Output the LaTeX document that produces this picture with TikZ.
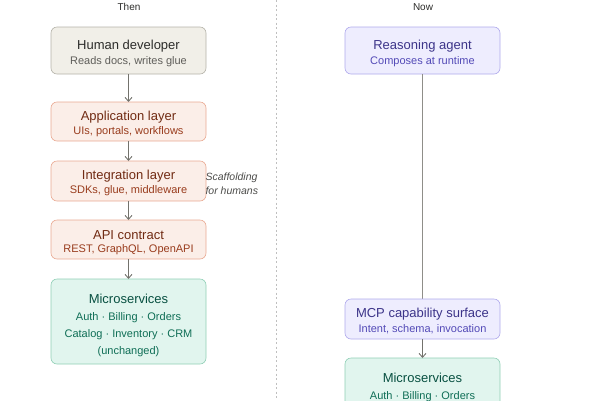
\documentclass[tikz,border=0pt]{standalone}
\usepackage{fontspec}
\setmainfont{Liberation Sans}
\usetikzlibrary{arrows.meta}
\definecolor{grayF}{HTML}{F1EFE8}\definecolor{grayD}{HTML}{B4B2A9}
\definecolor{grayT}{HTML}{2C2C2A}\definecolor{grayS}{HTML}{5F5E5A}
\definecolor{salF}{HTML}{FBEEE8}\definecolor{salD}{HTML}{E9A992}
\definecolor{salT}{HTML}{712B13}\definecolor{salS}{HTML}{993C1D}
\definecolor{grnF}{HTML}{E1F5EE}\definecolor{grnD}{HTML}{8FCFB5}
\definecolor{grnT}{HTML}{085041}\definecolor{grnS}{HTML}{0F6E56}
\definecolor{purF}{HTML}{EEEDFE}\definecolor{purD}{HTML}{AFA9EC}
\definecolor{purT}{HTML}{3C3489}\definecolor{purS}{HTML}{534AB7}
\definecolor{arr}{HTML}{73726C}
\tikzset{
  x=1pt,y=-1pt,
  box/.style={rounded corners=6pt,line width=0.6pt},
  ttl/.style={font=\fontsize{13}{15}\selectfont,anchor=center},
  sub/.style={font=\fontsize{11}{13}\selectfont,anchor=center},
  lbl/.style={font=\fontsize{10}{12}\selectfont,text=grayT},
  conn/.style={draw=arr,line width=0.9pt,-{Straight Barb[length=4pt,width=7pt]}},
}
\begin{document}
\begin{tikzpicture}
\useasboundingbox (0,0) rectangle (600,400);
\begin{scope}
\clip (0,0) rectangle (600,400);
\draw[draw=gray!50,line width=0.9pt,dash pattern=on 2pt off 2.5pt] (276,0) -- (276,400);
\node[lbl] (then) at (129,7) {Then};
\node[lbl] (now) at (423,7) {Now};
% left column
\draw[box,fill=grayF,draw=grayD] (51,27) rectangle (206,74);
\node[ttl,text=grayT] (hd) at (128.5,46) {Human developer};
\node[sub,text=grayS] (hds) at (128.5,62) {Reads docs, writes glue};
\coordinate (hdB) at (128.5,74);
\draw[box,fill=salF,draw=salD] (51,102) rectangle (206,141);
\node[ttl,text=salT] (al) at (128.5,117) {Application layer};
\node[sub,text=salS] (als) at (128.5,132) {UIs, portals, workflows};
\coordinate (alT) at (128.5,102);\coordinate (alB) at (128.5,141);
\draw[box,fill=salF,draw=salD] (51,161) rectangle (206,201);
\node[ttl,text=salT] (il) at (128.5,176) {Integration layer};
\node[sub,text=salS] (ils) at (128.5,191) {SDKs, glue, middleware};
\coordinate (ilT) at (128.5,161);\coordinate (ilB) at (128.5,201);
\draw[box,fill=salF,draw=salD] (51,220) rectangle (206,259);
\node[ttl,text=salT] (api) at (128.5,235) {API contract};
\node[sub,text=salS] (apis) at (128.5,250) {REST, GraphQL, OpenAPI};
\coordinate (apiT) at (128.5,220);\coordinate (apiB) at (128.5,259);
\draw[box,fill=grnF,draw=grnD] (51,279) rectangle (206,364);
\node[ttl,text=grnT] (ms) at (128.5,299) {Microservices};
\node[sub,text=grnS] (ms1) at (128.5,318) {Auth · Billing · Orders};
\node[sub,text=grnS] (ms2) at (128.5,335) {Catalog · Inventory · CRM};
\node[sub,text=grnS] (ms3) at (128.5,352) {(unchanged)};
\coordinate (msT) at (128.5,279);
\node[font=\fontsize{10.5}{14}\selectfont\itshape,text=grayT!85,align=left,anchor=west] (scaf) at (202,183.5) {Scaffolding\\for humans};
\draw[conn] (hdB) -- (alT);
\draw[conn] (alB) -- (ilT);
\draw[conn] (ilB) -- (apiT);
\draw[conn] (apiB) -- (msT);
% right column
\draw[box,fill=purF,draw=purD] (345,27) rectangle (500,74);
\node[ttl,text=purT] (ra) at (422.5,46) {Reasoning agent};
\node[sub,text=purS] (ras) at (422.5,62) {Composes at runtime};
\coordinate (raB) at (422.5,74);
\coordinate (mcpT) at (422.5,299);
\draw[draw=arr!80,line width=1pt] (raB) -- (mcpT);
\draw[box,fill=purF,draw=purD] (345,299) rectangle (500,339);
\node[ttl,text=purT] (mcp) at (422.5,314) {MCP capability surface};
\node[sub,text=purS] (mcps) at (422.5,329) {Intent, schema, invocation};
\coordinate (mcpB) at (422.5,339);
\draw[box,fill=grnF,draw=grnD] (345,358) rectangle (500,440);
\node[ttl,text=grnT] (ms2t) at (422.5,378) {Microservices};
\node[sub,text=grnS] (ms21) at (422.5,397) {Auth · Billing · Orders};
\coordinate (ms2T) at (422.5,358);
\draw[conn] (mcpB) -- (ms2T);
\end{scope}
\end{tikzpicture}
\end{document}
